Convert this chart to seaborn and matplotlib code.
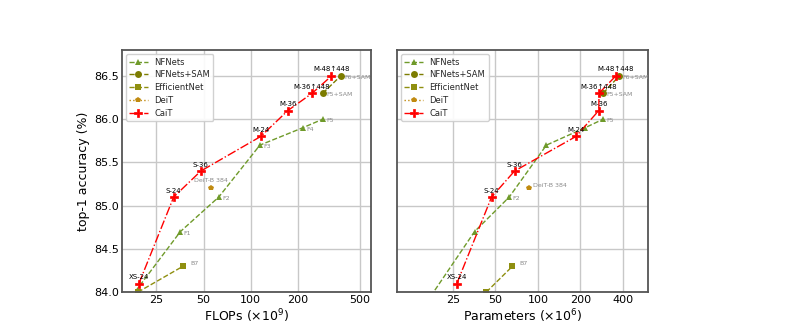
import numpy as np
import pandas as pd
import matplotlib
matplotlib.use("Agg")
import matplotlib.pyplot as plt
import seaborn as sns
from matplotlib.ticker import NullLocator, FixedLocator, FixedFormatter

# ---------------- data ----------------
cait_names = ['XS-24', 'S-24', 'S-36', 'M-24', 'M-36', 'M-36↑448', 'M-48↑448']
cait_flops = [19.3, 32.2, 48.0, 116.1, 173.3, 247.8, 329.6]
cait_params = [26.6, 46.9, 68.2, 185.9, 270.1, 271.1, 356.5]
cait_acc = [84.1, 85.1, 85.4, 85.8, 86.1, 86.3, 86.5]

nfnet_names = ['F0', 'F1', 'F2', 'F3', 'F4', 'F5']
nfnet_flops = [12.38, 35.54, 62.59, 114.76, 215.24, 289.76]
nfnet_params_x = [12.4, 35.5, 62.6, 114.8, 215.2, 289.8]   # as drawn in the right panel
nfnet_acc = [83.6, 84.7, 85.1, 85.7, 85.9, 86.0]

sam_names = ['F5+SAM', 'F6+SAM']
sam_flops = [289.76, 377.28]
sam_params_x = [289.8, 377.3]
sam_acc = [86.3, 86.5]

eff_names = ['B6', 'B7']
eff_flops = [19.0, 37.0]
eff_params = [43.0, 66.0]
eff_acc = [84.0, 84.3]

deit_names = ['DeiT-B 384']
deit_flops = [55.5]
deit_params = [86.0]
deit_acc = [85.2]

left_xticks = [25, 50, 100, 200, 500]
right_xticks = [25, 50, 100, 200, 400]
yticks = [84.0, 84.5, 85.0, 85.5, 86.0, 86.5]

# ---------------- style ----------------
sns.set_style("whitegrid")
plt.rcParams['font.family'] = ['DejaVu Sans']

C_NF = '#6f9a2a'
C_SAM = '#7c7c00'
C_EFF = '#8f8f10'
C_DEIT = '#c08a10'
C_CAIT = '#ff0000'
C_LBL = '#8a8a8a'

fig = plt.figure(figsize=(7.86, 3.29), dpi=100)
axL = fig.add_axes([0.155, 0.112, 0.317, 0.736])
axR = fig.add_axes([0.505, 0.112, 0.319, 0.736], sharey=axL)


def draw(ax, nf_x, sam_x, eff_x, deit_x, cait_x, show_nf, show_eff, deit_off):
    sns.lineplot(x=nf_x, y=nfnet_acc, ax=ax, sort=False, estimator=None,
                 color=C_NF, linestyle='--', linewidth=1.0, marker='^',
                 markersize=5, markeredgewidth=0, label='NFNets')
    sns.lineplot(x=sam_x, y=sam_acc, ax=ax, sort=False, estimator=None,
                 color=C_SAM, linestyle='--', linewidth=1.0, marker='o',
                 markersize=5, markeredgewidth=0, label='NFNets+SAM')
    sns.lineplot(x=eff_x, y=eff_acc, ax=ax, sort=False, estimator=None,
                 color=C_EFF, linestyle='--', linewidth=1.0, marker='s',
                 markersize=5, markeredgewidth=0, label='EfficientNet')
    sns.lineplot(x=deit_x, y=deit_acc, ax=ax, sort=False, estimator=None,
                 color=C_DEIT, linestyle=':', linewidth=1.0, marker='p',
                 markersize=4, markeredgewidth=0, label='DeiT')
    sns.lineplot(x=cait_x, y=cait_acc, ax=ax, sort=False, estimator=None,
                 color=C_CAIT, linestyle='-.', linewidth=1.0, marker='P',
                 markersize=6, markeredgewidth=0.5, markeredgecolor=C_CAIT,
                 label='CaiT')

    for n, x, y in zip(nfnet_names, nf_x, nfnet_acc):
        if n in show_nf:
            ax.annotate(n, (x, y), xytext=(2.5, -1), textcoords='offset points',
                        fontsize=4.5, color=C_LBL, va='center', ha='left')
    for n, x, y in zip(sam_names, sam_x, sam_acc):
        ax.annotate(n, (x, y), xytext=(2.5, -1), textcoords='offset points',
                    fontsize=4.5, color=C_LBL, va='center', ha='left')
    for n, x, y in zip(eff_names, eff_x, eff_acc):
        if n in show_eff:
            ax.annotate(n, (x, y), xytext=(5, 2), textcoords='offset points',
                        fontsize=4.5, color=C_LBL, va='center', ha='left')
    for n, x, y in zip(deit_names, deit_x, deit_acc):
        ax.annotate(n, (x, y), xytext=deit_off[0], textcoords='offset points',
                    fontsize=4.5, color=C_LBL, va='center', ha=deit_off[1])
    for n, x, y in zip(cait_names, cait_x, cait_acc):
        ax.annotate(n, (x, y), xytext=(0, 2.5), textcoords='offset points',
                    fontsize=5, color='black', va='bottom', ha='center')

    ax.set_xscale('log')
    ax.grid(True, color='#c8c8c8', linewidth=1.0)
    for s in ax.spines.values():
        s.set_color('#555555')
        s.set_linewidth(1.3)
    ax.legend(loc='upper left', fontsize=6, frameon=True, framealpha=0.9,
              handlelength=2.2, borderpad=0.4, labelspacing=0.45)


draw(axL, nfnet_flops, sam_flops, eff_flops, deit_flops, cait_flops,
     show_nf=['F1', 'F2', 'F3', 'F4', 'F5'], show_eff=['B7'],
     deit_off=((0, 6), 'center'))
draw(axR, nfnet_params_x, sam_params_x, eff_params, deit_params, cait_params,
     show_nf=['F2', 'F5'], show_eff=['B7'],
     deit_off=((3, 2), 'left'))

axL.set_xlim(15, 590)
axR.set_xlim(10, 600)
axL.set_ylim(84.0, 86.8)
for ax, ticks in ((axL, left_xticks), (axR, right_xticks)):
    ax.xaxis.set_major_locator(FixedLocator(ticks))
    ax.xaxis.set_major_formatter(FixedFormatter([str(t) for t in ticks]))
    ax.xaxis.set_minor_locator(NullLocator())
    ax.tick_params(axis='both', labelsize=8, length=0, pad=2, labelcolor='black')
axL.set_yticks(yticks)
axL.set_yticklabels([f'{v:.1f}' for v in yticks])
axR.tick_params(axis='y', labelleft=False)

axL.set_xlabel(r'FLOPs ($\times 10^9$)', fontsize=9, labelpad=2, color='black')
axR.set_xlabel(r'Parameters ($\times 10^6$)', fontsize=9, labelpad=2, color='black')
axL.set_ylabel('top-1 accuracy (%)', fontsize=9, labelpad=3, color='black')
axR.set_ylabel('')

fig.savefig('out.png', dpi=100)
